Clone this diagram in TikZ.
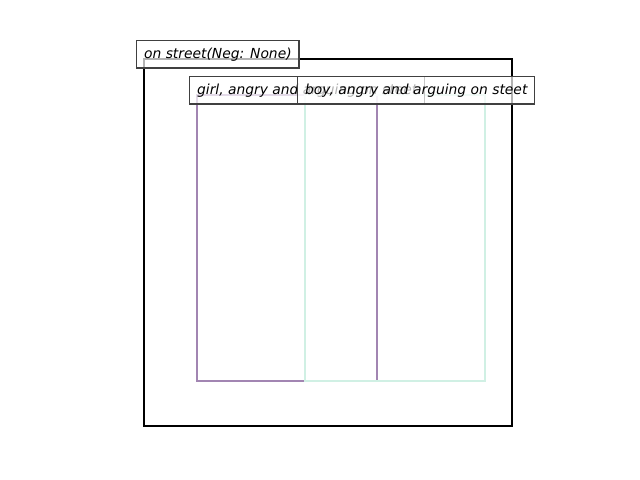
\documentclass[tikz,border=0pt]{standalone}
\usepackage{fontspec}
\setmainfont{DejaVu Sans}
\definecolor{boxpurple}{RGB}{162,133,178}
\definecolor{boxteal}{RGB}{208,240,228}
\tikzset{
  lbl/.style={anchor=base west, xshift=-5.6pt, draw=black!75, fill=white, fill opacity=0.7, text opacity=1,
    font=\fontsize{10pt}{12pt}\selectfont\itshape, text height=9.6pt, text depth=2.5pt,
    inner xsep=5.3pt, inner ysep=4pt, line width=0.8pt},
  region/.style={line width=2.1pt}
}
\begin{document}
\begin{tikzpicture}[x=0.01in,y=-0.01in]
\useasboundingbox (0,0) rectangle (640,480);
\draw[line width=1.1pt, black] (144,59) coordinate (k1) rectangle (512,426) coordinate (k2);
\draw[region, boxpurple] (197,95) coordinate (p1) rectangle (377,381) coordinate (p2);
\draw[region, boxteal] (305,95) coordinate (t1) rectangle (485,381) coordinate (t2);
\node[lbl] (lk) at (k1) {on street(Neg: None)};
\node[lbl] (lp) at (p1) {girl, angry and arguing on steet};
\node[lbl] (lt) at (t1) {boy, angry and arguing on steet};
\end{tikzpicture}
\end{document}
